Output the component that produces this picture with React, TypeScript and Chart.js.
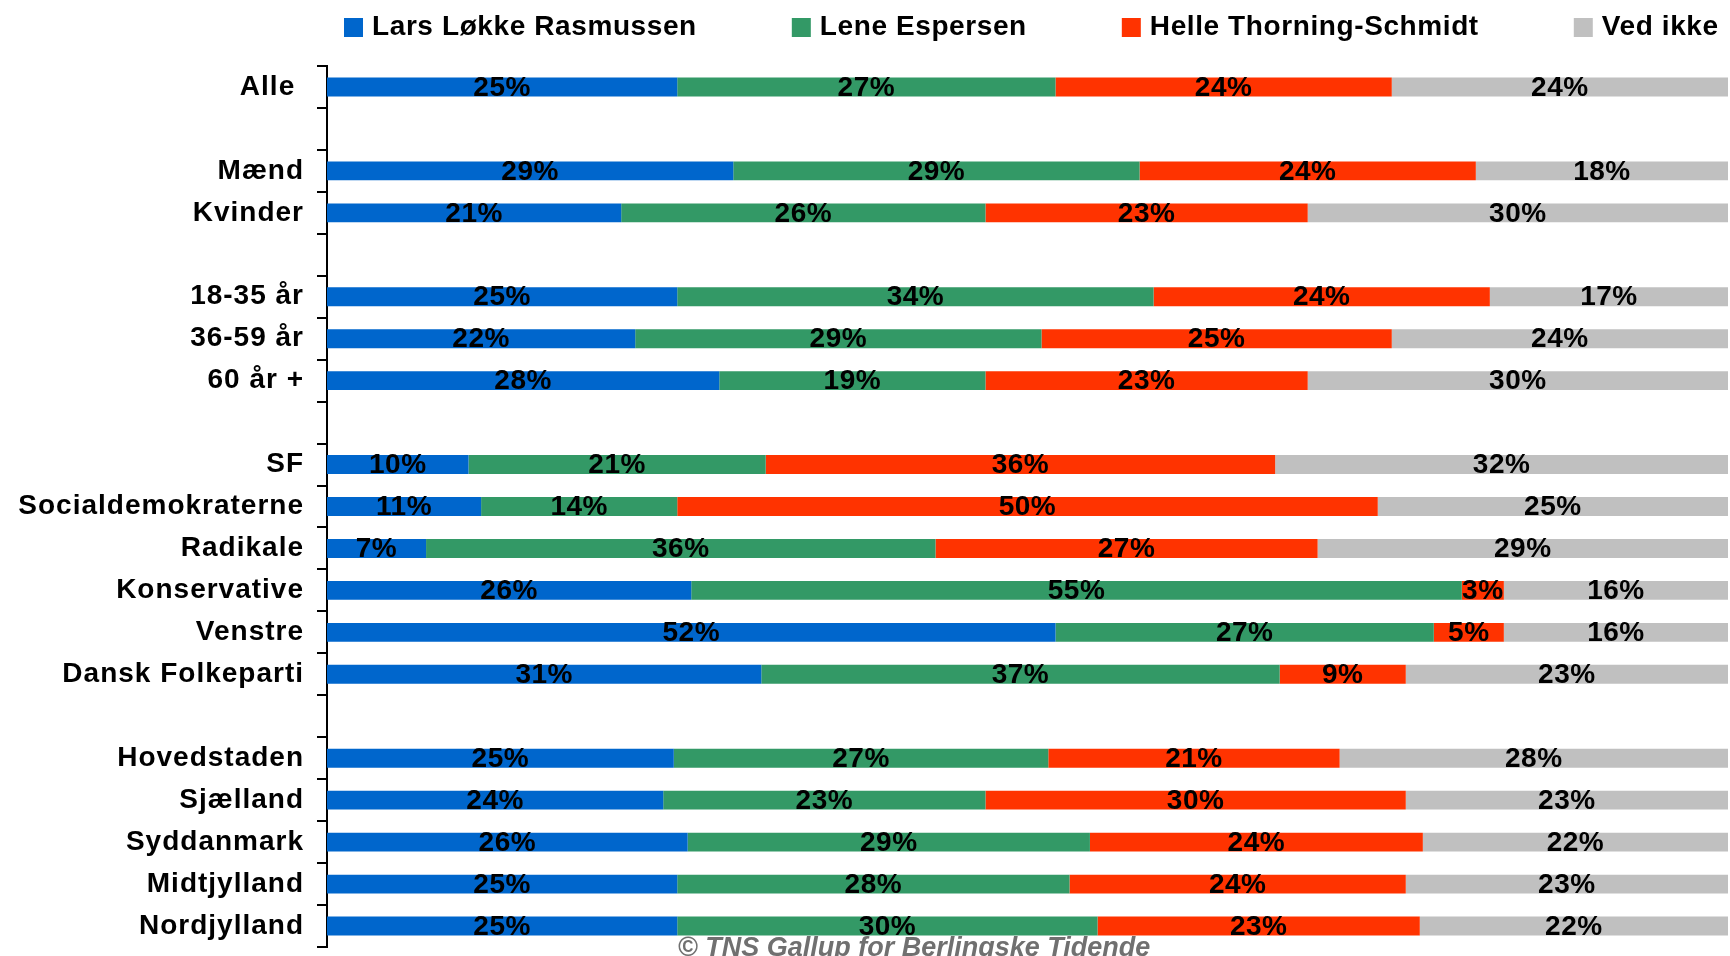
import React, { useEffect, useRef } from 'react';
import { Chart, registerables } from 'chart.js';

Chart.register(...registerables);

const categories = [
  'Alle ', '', 'Mænd', 'Kvinder', '', '18-35 år', '36-59 år', '60 år +', '',
  'SF', 'Socialdemokraterne', 'Radikale', 'Konservative', 'Venstre', 'Dansk Folkeparti', '',
  'Hovedstaden', 'Sjælland', 'Syddanmark', 'Midtjylland', 'Nordjylland',
];
const seriesNames = ['Lars Løkke Rasmussen', 'Lene Espersen', 'Helle Thorning-Schmidt', 'Ved ikke'];
const lars = [25, null, 29, 21, null, 25, 22, 28, null, 10, 11, 7, 26, 52, 31, null, 25, 24, 26, 25, 25];
const lene = [27, null, 29, 26, null, 34, 29, 19, null, 21, 14, 36, 55, 27, 37, null, 27, 23, 29, 28, 30];
const helle = [24, null, 24, 23, null, 24, 25, 23, null, 36, 50, 27, 3, 5, 9, null, 21, 30, 24, 24, 23];
const vedIkke = [24, null, 18, 30, null, 17, 24, 30, null, 32, 25, 29, 16, 16, 23, null, 28, 23, 22, 23, 22];
const colors = ['#0066CC', '#339966', '#FF3300', '#C0C0C0'];
const footerText = '© TNS Gallup for Berlingske Tidende';

const FONT = '"Liberation Sans", Arial, Helvetica, sans-serif';

export default function App() {
  const ref = useRef<HTMLCanvasElement>(null);

  useEffect(() => {
    document.body.style.margin = '0';
    const raw: (number | null)[][] = [lars, lene, helle, vedIkke];
    const totals = categories.map((_, i) => raw.reduce((s, arr) => s + (arr[i] ?? 0), 0));
    const datasets = raw.map((arr, k) => ({
      label: seriesNames[k],
      data: arr.map((v, i) => (v == null ? null : (v / totals[i]) * 100)),
      backgroundColor: colors[k],
      borderWidth: 0,
      barPercentage: 0.45,
      categoryPercentage: 1,
    }));

    const spacing = {
      id: 'spacing',
      beforeDraw(chart: any) {
        chart.ctx.letterSpacing = '1px';
      },
    };

    const valueLabels = {
      id: 'valueLabels',
      afterDatasetsDraw(chart: any) {
        const ctx = chart.ctx;
        ctx.save();
        ctx.letterSpacing = '0.5px';
        ctx.font = `bold 28px ${FONT}`;
        ctx.fillStyle = '#000';
        ctx.textAlign = 'center';
        ctx.textBaseline = 'middle';
        chart.data.datasets.forEach((_: any, di: number) => {
          const meta = chart.getDatasetMeta(di);
          meta.data.forEach((bar: any, i: number) => {
            const v = raw[di][i];
            if (v == null) return;
            const p = bar.getProps(['x', 'base', 'y'], true);
            ctx.fillText(`${v}%`, (p.x + p.base) / 2, p.y + 1);
          });
        });
        ctx.restore();
      },
    };

    const legendFooter = {
      id: 'legendFooter',
      afterDraw(chart: any) {
        const ctx = chart.ctx;
        ctx.save();
        ctx.letterSpacing = '0.6px';
        ctx.font = `bold 28px ${FONT}`;
        ctx.textAlign = 'left';
        ctx.textBaseline = 'alphabetic';
        let x = 344;
        seriesNames.forEach((name, k) => {
          ctx.fillStyle = colors[k];
          ctx.fillRect(x, 18, 19, 19);
          ctx.fillStyle = '#000';
          ctx.fillText(name, x + 28, 35);
          x += 28 + ctx.measureText(name).width + 95;
        });
        ctx.letterSpacing = '0px';
        ctx.font = `italic bold 27px ${FONT}`;
        ctx.fillStyle = '#707070';
        ctx.textAlign = 'center';
        ctx.fillText(footerText, 914, 956);
        ctx.restore();
      },
    };

    const chart = new Chart(ref.current!, {
      type: 'bar',
      data: { labels: categories, datasets },
      options: {
        indexAxis: 'y',
        animation: false,
        responsive: true,
        maintainAspectRatio: false,
        layout: { padding: { top: 66, bottom: 9, right: 2, left: 0 } },
        scales: {
          x: { stacked: true, min: 0, max: 100, display: false },
          y: {
            stacked: true,
            grid: {
              display: true,
              drawOnChartArea: false,
              drawTicks: true,
              tickLength: 10,
              color: '#000',
              lineWidth: 2,
              offset: true,
            },
            border: { display: true, color: '#000', width: 2 },
            ticks: {
              color: '#000',
              font: { family: FONT, size: 28, weight: 'bold' },
              padding: 13,
              autoSkip: false,
            },
            afterFit: (scale: any) => {
              scale.width = 327;
              scale.paddingTop = 0;
              scale.paddingBottom = 0;
            },
          },
        },
        plugins: {
          legend: { display: false },
          tooltip: { enabled: false },
          title: { display: false },
        },
      } as any,
      plugins: [spacing, valueLabels, legendFooter],
    });
    return () => chart.destroy();
  }, []);

  return (
    <div style={{ position: 'relative', width: 1730, height: 956 }}>
      <canvas ref={ref} />
    </div>
  );
}
